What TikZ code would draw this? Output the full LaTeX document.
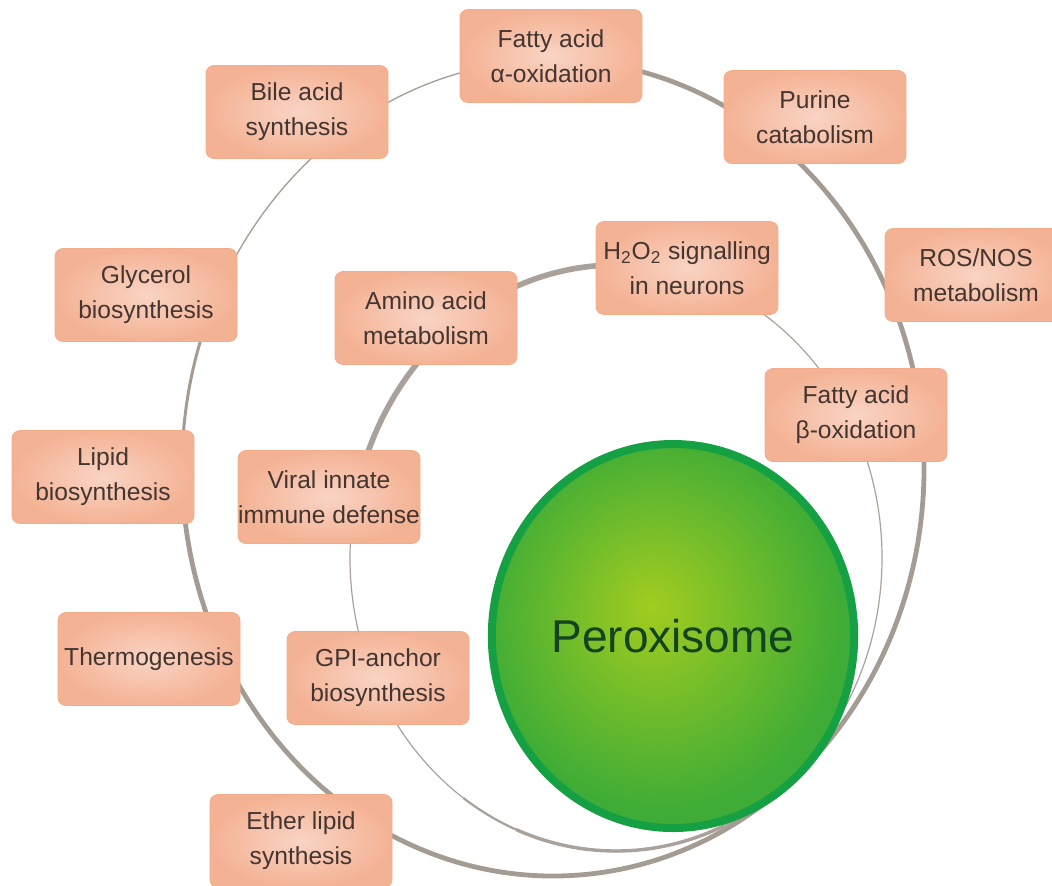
\documentclass[tikz,border=0pt]{standalone}
\usepackage{fontspec}
\setmainfont{Liberation Sans}
\usepackage{tikz}
\usetikzlibrary{shapes.geometric}

\definecolor{ringgray}{RGB}{164,156,146}
\definecolor{ringin}{RGB}{170,161,154}
\definecolor{boxfill}{RGB}{244,178,148}
\definecolor{boxlight}{RGB}{249,212,196}
\definecolor{boxedge}{RGB}{242,172,138}
\definecolor{textbrown}{RGB}{68,53,48}
\definecolor{peroxin}{RGB}{162,204,32}
\definecolor{peroxout}{RGB}{62,172,54}
\definecolor{peroxedge}{RGB}{22,160,68}
\definecolor{peroxtext}{RGB}{20,68,30}

\pgfdeclareradialshading{peroxshade}{\pgfpoint{-3bp}{4bp}}{color(0bp)=(peroxin); color(25bp)=(peroxout); color(50bp)=(peroxout)}

\begin{document}
\begin{tikzpicture}[x=0.5pt, y=-0.5pt,
    box/.style={rectangle, rounded corners=4pt, draw=boxedge, line width=0.4pt,
        inner color=boxlight, outer color=boxfill,
        minimum width=91pt, minimum height=46.5pt, inner sep=0pt,
        align=center, text=textbrown, font=\fontsize{12.3}{17.5}\selectfont},
    perox/.style={ellipse, draw=peroxedge, line width=4pt, shading=peroxshade,
        minimum width=174.5pt, minimum height=192pt,
        text=peroxtext, font=\fontsize{23}{28}\selectfont}]
    \clip (0,0) rectangle (1052,885);

    % 1. Anello esterno: sottile in alto a sinistra, spesso altrove
    \draw[ringgray, line width=0.65pt] (553,468) ellipse [x radius=371, y radius=408];
    \draw[ringgray, line width=1.5pt] (553,468) ++(535:371 and 408)
        arc [start angle=535, end angle=565, x radius=371, y radius=408];
    \draw[ringgray, line width=2.4pt] (553,468) ++(268:371 and 408)
        arc [start angle=268, end angle=540, x radius=371, y radius=408];

    % 2. Anello interno: spesso in alto a sinistra, sottile altrove
    \draw[ringin, line width=0.6pt] (616,558) ellipse [x radius=266, y radius=293];
    \draw[ringin, line width=1.1pt] (616,558) ++(125:266 and 293)
        arc [start angle=125, end angle=60, x radius=266, y radius=293];
    \draw[ringin, line width=1.7pt] (616,558) ++(112:266 and 293)
        arc [start angle=112, end angle=66, x radius=266, y radius=293];
    \draw[ringin, line width=2.8pt] (616,558) ++(190:266 and 293)
        arc [start angle=190, end angle=285, x radius=266, y radius=293];

    % 3. Riquadri sull'anello esterno
    \node[box] (alpha)   at (551,56)  {Fatty acid\\α-oxidation};
    \node[box] (purine)  at (815,117) {Purine\\catabolism};
    \node[box] (ros)     at (976,275) {ROS/NOS\\metabolism};
    \node[box] (beta)    at (856,415) {Fatty acid\\β-oxidation};
    \node[box] (bile)    at (297,112) {Bile acid\\synthesis};
    \node[box] (glycerol) at (146,295) {Glycerol\\biosynthesis};
    \node[box] (lipid)   at (103,477) {Lipid\\biosynthesis};
    \node[box] (thermo)  at (149,659) {Thermogenesis};
    \node[box] (ether)   at (301,841) {Ether lipid\\synthesis};

    % 4. Riquadri sull'anello interno
    \node[box] (hydro)   at (687,268) {H\textsubscript{2}O\textsubscript{2} signalling\\in neurons};
    \node[box] (amino)   at (426,318) {Amino acid\\metabolism};
    \node[box] (viral)   at (329,497) {Viral innate\\immune defense};
    \node[box] (gpi)     at (378,678) {GPI-anchor\\biosynthesis};

    % 5. Perossisoma
    \node[perox] (perox) at (673,636) {Peroxisome};
\end{tikzpicture}
\end{document}
